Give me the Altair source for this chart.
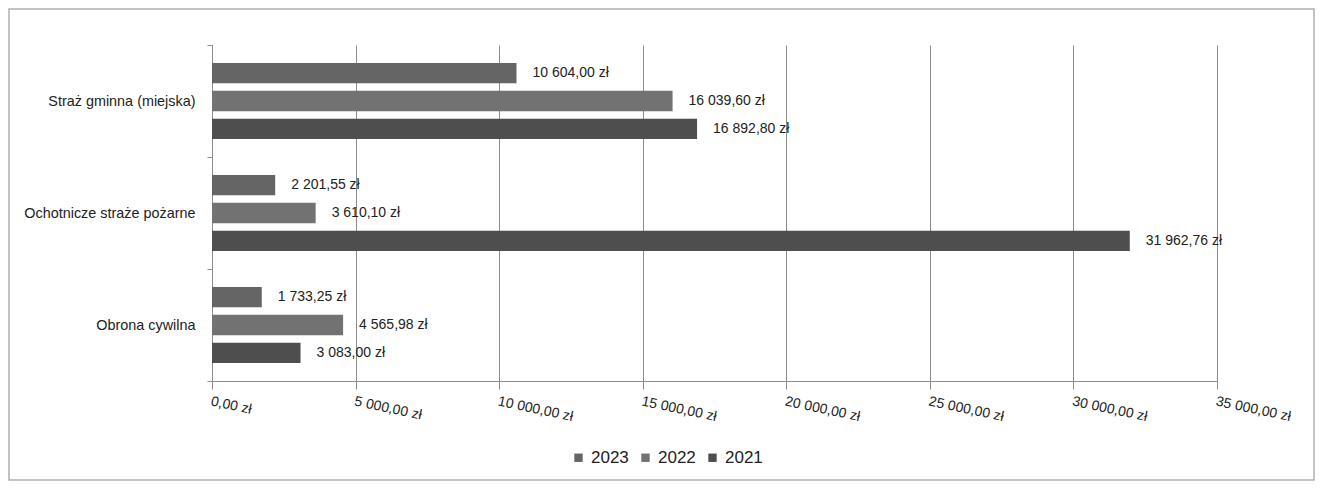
import altair as alt
import pandas as pd

categories = ["Straż gminna (miejska)", "Ochotnicze straże pożarne", "Obrona cywilna"]
years = ["2023", "2022", "2021"]
v2023 = [10604.00, 2201.55, 1733.25]
v2022 = [16039.60, 3610.10, 4565.98]
v2021 = [16892.80, 31962.76, 3083.00]
x_ticks = [0, 5000, 10000, 15000, 20000, 25000, 30000, 35000]
colors = ["#656565", "#727272", "#4e4e4e"]


def pln(v):
    return f"{v:,.2f}".replace(",", " ").replace(".", ",") + " zł"


rows = []
for yr, vals in zip(years, [v2023, v2022, v2021]):
    for c, v in zip(categories, vals):
        rows.append({"kategoria": c, "rok": yr, "wartosc": v, "etykieta": pln(v)})
df = pd.DataFrame(rows)

FONT = "Liberation Sans"

base = alt.Chart(df).encode(
    y=alt.Y(
        "kategoria:N",
        sort=categories,
        scale=alt.Scale(paddingInner=0, paddingOuter=0),
        axis=alt.Axis(
            title=None, ticks=True, tickBand="extent", tickSize=5,
            tickColor="#8c8c8c", labelFontSize=14.4, labelColor="#222222",
            labelPadding=12, domainColor="#8c8c8c", labelFont=FONT,
        ),
    ),
    yOffset=alt.YOffset(
        "rok:N", sort=years, scale=alt.Scale(paddingInner=0.27, paddingOuter=0.65)
    ),
)

bars = base.mark_bar().encode(
    x=alt.X(
        "wartosc:Q",
        scale=alt.Scale(domain=[0, 35000], nice=False),
        axis=alt.Axis(
            title=None, values=x_ticks, grid=True, gridColor="#8c8c8c",
            domainColor="#8c8c8c", tickColor="#8c8c8c", tickSize=8,
            labelAngle=12, labelAlign="left", labelBaseline="top",
            labelPadding=5, labelFontSize=14, labelColor="#222222",
            labelFont=FONT, labelOverlap=False, labelFlush=False,
            labelExpr="replace(replace(format(datum.value, ',.2f'), regexp(',', 'g'), ' '), '.', ',') + ' zł'",
        ),
    ),
    color=alt.Color(
        "rok:N",
        sort=years,
        scale=alt.Scale(domain=years, range=colors),
        legend=alt.Legend(
            title=None, orient="none", direction="horizontal", legendX=358,
            legendY=404, symbolType="square", symbolSize=70, labelFontSize=17,
            labelColor="#222222", labelFont=FONT, columnPadding=8,
            symbolStrokeWidth=0, labelOffset=4,
        ),
    ),
)

labels = base.mark_text(
    align="left", baseline="middle", dx=16, fontSize=14, color="#222222", font=FONT
).encode(x="wartosc:Q", text="etykieta:N")

frame = alt.Chart(pd.DataFrame({"f": [0]})).mark_rect(
    fill=None, stroke="#b0b0b0", strokeWidth=1.5, clip=False
).encode(
    x=alt.value(-203), x2=alt.value(1102), y=alt.value(-36), y2=alt.value(435)
)

chart = (
    alt.layer(bars, labels, frame)
    .properties(
        width=1005,
        height=336,
        autosize=alt.AutoSizeParams(type="none"),
        padding={"left": 204, "top": 37, "right": 98, "bottom": 101},
        background="white",
    )
    .configure_view(strokeWidth=0)
)

chart.save("out.html", embed_options={"renderer": "svg", "actions": False})
